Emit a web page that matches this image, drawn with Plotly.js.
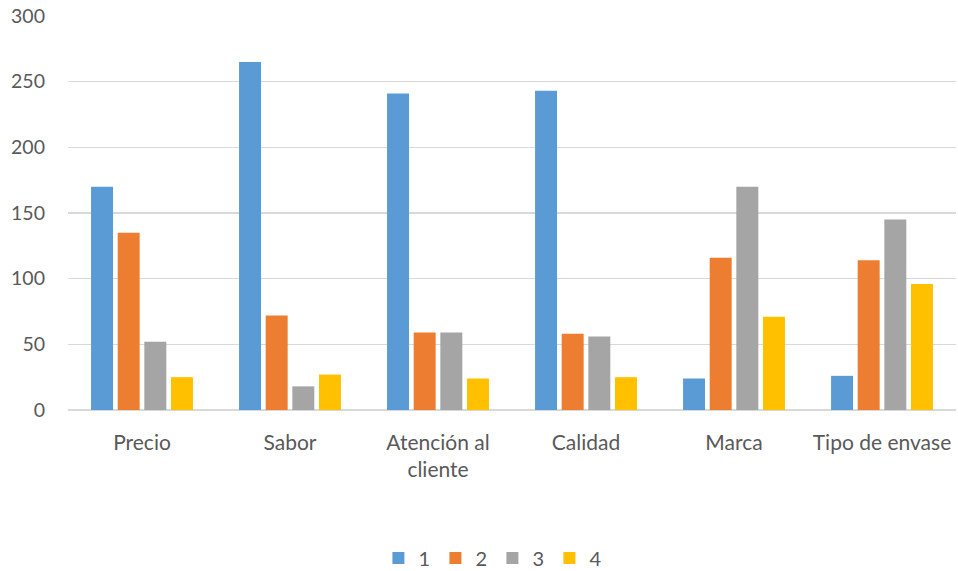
<!DOCTYPE html>
<html>
<head>
<meta charset="utf-8">
<script src="https://cdn.plot.ly/plotly-3.0.1.min.js"></script>
<style>
  html, body { margin: 0; padding: 0; background: #fff; }
  #chart { width: 958px; height: 571px; }
</style>
</head>
<body>
<div id="chart"></div>
<script>
// Factores evaluados y respuestas por nivel de importancia (1 a 4)
const categorias = ['Precio', 'Sabor', 'Atención al<br>cliente', 'Calidad', 'Marca', 'Tipo de envase'];
const serie1 = [170, 265, 241, 243, 24, 26];
const serie2 = [135, 72, 59, 58, 116, 114];
const serie3 = [52, 18, 59, 56, 170, 145];
const serie4 = [25, 27, 24, 25, 71, 96];
const nombres = ['1', '2', '3', '4'];
const colores = ['#5B9BD5', '#ED7D31', '#A5A5A5', '#FFC000'];
const ticksY = [0, 50, 100, 150, 200, 250, 300];

const series = [serie1, serie2, serie3, serie4];
const trazas = series.map((valores, i) => ({
  type: 'bar',
  x: categorias,
  y: valores,
  name: nombres[i],
  marker: { color: colores[i], line: { width: 0 } },
  hoverinfo: 'x+y+name'
}));

const familia = 'Lato, "Open Sans", sans-serif';
const gris = '#595959';

const layout = {
  width: 958,
  height: 571,
  margin: { l: 68, r: 2, t: 16, b: 160.5 },
  paper_bgcolor: '#ffffff',
  plot_bgcolor: '#ffffff',
  font: { family: familia, size: 20, color: gris },
  barmode: 'group',
  bargap: 0.28,
  bargroupgap: 0.175,
  showlegend: true,
  legend: {
    orientation: 'h',
    xref: 'container',
    yref: 'container',
    x: 0.395,
    xanchor: 'left',
    y: 1 - 558 / 571,
    yanchor: 'middle',
    font: { family: familia, size: 20, color: gris },
    itemwidth: 30,
    entrywidth: 12,
    traceorder: 'normal'
  },
  xaxis: {
    type: 'category',
    showgrid: false,
    showline: false,
    zeroline: false,
    ticks: '',
    ticklabelstandoff: 18,
    tickfont: { family: familia, size: 21, color: gris },
    fixedrange: true
  },
  yaxis: {
    range: [0, 300],
    tickvals: ticksY,
    ticktext: ticksY.map(String),
    showgrid: true,
    gridcolor: '#D9D9D9',
    gridwidth: 1.5,
    zeroline: true,
    zerolinecolor: '#D9D9D9',
    zerolinewidth: 1.5,
    showline: false,
    ticks: '',
    ticklabelstandoff: 22,
    tickfont: { family: familia, size: 19.5, color: gris },
    fixedrange: true
  }
};

Plotly.newPlot('chart', trazas, layout, { displayModeBar: false, staticPlot: true });
</script>
</body>
</html>
